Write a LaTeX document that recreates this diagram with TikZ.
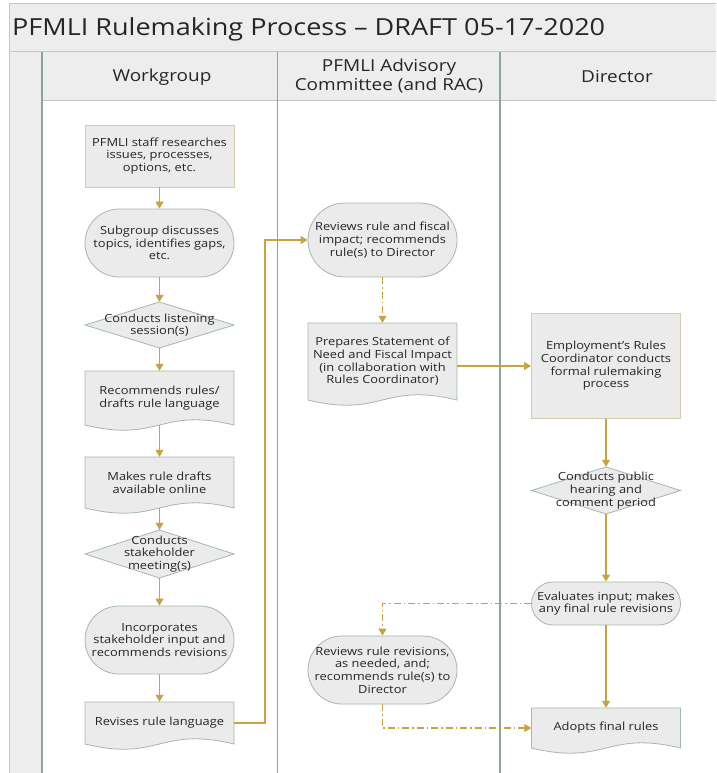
\documentclass[tikz,border=0pt]{standalone}
\usepackage{fontspec}
\setmainfont{Open Sans}[FakeStretch=1.15]
\usetikzlibrary{arrows.meta,calc}
\definecolor{gold}{HTML}{C8A440}
\definecolor{hdrfill}{HTML}{EDEDED}
\definecolor{nodefill}{HTML}{EBEBEB}
\definecolor{bord}{HTML}{A3B8B2}
\definecolor{tanbord}{HTML}{D5CCAA}
\definecolor{lane}{HTML}{8BA59E}
\definecolor{frame}{HTML}{BFCBC6}
\tikzset{
  arr/.style={draw=gold, line width=1.1pt, -{Triangle[width=8pt,length=7pt]}},
  dd/.style={arr, dash pattern=on 7pt off 3pt on 1.5pt off 3pt},
  txt/.style={font=\fontsize{11.2}{12.7}\selectfont, align=center, inner sep=0pt, text=black!85},
  term/.style={txt, draw=bord, fill=nodefill, line width=0.8pt, minimum width=149},
  rectn/.style={txt, draw=tanbord, fill=nodefill, line width=0.9pt, minimum width=149},
  shp/.style={draw=bord, fill=nodefill, line width=0.8pt},
  hdr/.style={font=\fontsize{16.5}{19}\selectfont, align=center, inner sep=0pt, text=black!85}
}
% diamond: name, cx, cy, h, text
\newcommand\mydiam[5]{%
  \filldraw[shp] ({#2-74.5},#3) -- (#2,{#3-#4/2}) -- ({#2+74.5},#3) -- (#2,{#3+#4/2}) -- cycle;
  \node[txt, minimum width=149, minimum height=#4] (#1) at (#2,#3) {#5};}
% document: name, cx, top, y0, text
\newcommand\mydoc[5]{%
  \filldraw[shp] ({#2-74.5},#3) -- ({#2+74.5},#3) -- ({#2+74.5},#4)
     .. controls (#2,{#4-18}) and (#2,{#4+18}) .. ({#2-74.5},#4) -- cycle;
  \node[txt, minimum width=149, minimum height={#4-#3}] (#1) at (#2,{(#3+#4)/2}) {#5};}
\begin{document}
\begin{tikzpicture}[x=1pt,y=-1pt]
\useasboundingbox (0,0) rectangle (716,773);
\clip (0,0) rectangle (716,773);
\fill[white] (0,0) rectangle (716,773);
% frame and header
\fill[hdrfill] (9,4) rectangle (760,101);
\fill[hdrfill] (9,52) rectangle (42,800);
\draw[frame, line width=1pt] (9,800) -- (9,4) -- (760,4);
\draw[frame, line width=1pt] (9,52) -- (760,52);
\draw[frame, line width=1pt] (42,101) -- (760,101);
\draw[lane, line width=1.2pt] (42,52) -- (42,800);
\draw[lane, line width=1.2pt] (277.5,52) -- (277.5,800);
\draw[lane, line width=1.2pt] (500,52) -- (500,800);
\node[anchor=west, font=\fontsize{23.5}{28}\selectfont, inner sep=0pt, text=black!85] (title) at (12,29) {PFMLI Rulemaking Process – DRAFT 05-17-2020};
\node[hdr] (h1) at (162,77) {Workgroup};
\node[hdr] (h2) at (389,76.5) {PFMLI Advisory\\Committee (and RAC)};
\node[hdr] (h3) at (617,77) {Director};
% Workgroup column
\node[rectn, minimum height=62] (n1) at (159.5,156) {PFMLI staff researches\\issues, processes,\\options, etc.};
\node[term, minimum height=68, rounded corners=34] (n2) at (159.5,243) {Subgroup discusses\\topics, identifies gaps,\\etc.};
\mydiam{n3}{159.5}{325}{46}{Conducts listening\\session(s)}
\mydoc{n4}{159.5}{371}{425}{Recommends rules/\\drafts rule language}
\mydoc{n5}{159.5}{457}{508}{Makes rule drafts\\available online}
\mydiam{n6}{159.5}{554}{48}{Conducts\\stakeholder\\meeting(s)}
\node[term, minimum height=68, rounded corners=34] (n7) at (159.5,640) {Incorporates\\stakeholder input and\\recommends revisions};
\mydoc{n8}{159.5}{702}{744}{Revises rule language}
% Advisory column
\node[term, minimum height=74, rounded corners=37] (A) at (382.5,240) {Reviews rule and fiscal\\impact; recommends\\rule(s) to Director};
\mydoc{B}{382.5}{323}{400}{Prepares Statement of\\Need and Fiscal Impact\\(in collaboration with\\Rules Coordinator)}
\node[term, minimum height=68, rounded corners=34] (C) at (382.5,670) {Reviews rule revisions,\\as needed, and;\\recommends rule(s) to\\Director};
% Director column
\node[rectn, minimum height=105] (D) at (606,366) {Employment’s Rules\\Coordinator conducts\\formal rulemaking\\process};
\mydiam{E}{606}{490.5}{47}{Conducts public\\hearing and\\comment period}
\node[term, minimum height=43, rounded corners=21.5] (F) at (606,603.5) {Evaluates input; makes\\any final rule revisions};
\mydoc{G}{606}{708}{748}{Adopts final rules}
% connectors
\draw[arr] (n1) -- (n2);
\draw[arr] (n2) -- (n3);
\draw[arr] (n3) -- (n4);
\draw[arr] (n4.south) -- (n5.north);
\draw[arr] (n5.south) -- (n6);
\draw[arr] (n6) -- (n7);
\draw[arr] (n7) -- (n8.north);
\coordinate (k1) at (265,723);
\draw[arr] (n8.east) -- (k1) |- (A.west);
\draw[dd] (A) -- (B.north);
\draw[arr] (B.east |- D.west) -- (D.west);
\draw[arr] (D) -- (E);
\draw[arr] (E) -- (F);
\draw[arr] (F) -- (G.north);
\draw[dd] (F.west) -| (C.north);
\draw[dd] (C.south) |- (G.west);
\end{tikzpicture}
\end{document}
